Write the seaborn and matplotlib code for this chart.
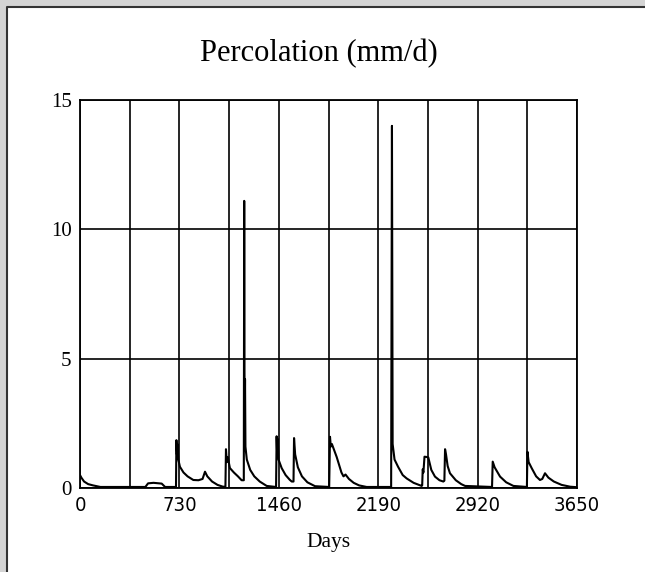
import pandas as pd
import matplotlib
matplotlib.use('Agg')
import matplotlib.pyplot as plt
import seaborn as sns
from matplotlib.patches import Rectangle

# points (day, mm/d)
days = [0, 10, 30, 60, 96, 150, 480, 500, 540, 600, 625,
        705, 708, 712, 716, 722, 734, 760, 790, 832, 870, 900, 918, 935, 970, 1010, 1050,
        1068, 1072, 1078, 1085, 1101, 1130, 1160, 1187, 1203, 1206, 1208, 1210, 1212, 1215,
        1225, 1250, 1280, 1320, 1371,
        1440, 1444, 1448, 1452, 1458, 1481, 1510, 1540, 1555, 1568, 1572, 1580, 1600, 1630,
        1670, 1726,
        1830, 1836, 1842, 1850, 1885, 1920, 1935, 1950, 1975, 2010, 2050, 2105,
        2285, 2291, 2296, 2310, 2336, 2370, 2399, 2450, 2509,
        2513, 2517, 2522, 2530, 2545, 2558, 2580, 2607, 2640, 2668,
        2676, 2681, 2688, 2700, 2717, 2760, 2800, 2828,
        3026, 3031, 3045, 3085, 3130, 3183,
        3282, 3286, 3295, 3318, 3350, 3378, 3395, 3415, 3440, 3480, 3537, 3600, 3650]
perc = [0.5, 0.4, 0.25, 0.15, 0.1, 0.04, 0.04, 0.18, 0.2, 0.17, 0.04,
        0.04, 1.85, 1.3, 1.7, 1.1, 0.82, 0.6, 0.45, 0.31, 0.3, 0.35, 0.63, 0.45, 0.25, 0.12, 0.05,
        0.05, 1.5, 1.0, 1.2, 0.77, 0.6, 0.45, 0.3, 0.3, 11.1, 4.5, 3.0, 4.2, 1.6,
        1.1, 0.7, 0.45, 0.25, 0.08,
        0.04, 2.0, 1.3, 1.9, 1.1, 0.77, 0.5, 0.32, 0.25, 0.25, 1.93, 1.3, 0.8, 0.45,
        0.22, 0.07,
        0.04, 1.98, 1.6, 1.7, 1.2, 0.6, 0.45, 0.52, 0.35, 0.2, 0.1, 0.04,
        0.04, 14.0, 1.7, 1.1, 0.82, 0.5, 0.37, 0.2, 0.08,
        0.1, 0.72, 0.6, 1.21, 1.2, 1.18, 0.7, 0.44, 0.3, 0.25,
        0.28, 1.5, 1.3, 0.85, 0.57, 0.3, 0.15, 0.08,
        0.04, 1.02, 0.8, 0.44, 0.22, 0.08,
        0.04, 1.4, 1.0, 0.76, 0.45, 0.31, 0.35, 0.57, 0.4, 0.25, 0.12, 0.05, 0.03]

x_ticks = list(range(0, 3651, 365))
x_labels = [str(t) if i % 2 == 0 else '' for i, t in enumerate(x_ticks)]
y_ticks = [0, 5, 10, 15]

df = pd.DataFrame({'day': days, 'perc': perc})

sns.set_style('white')
plt.rcParams['font.family'] = ['Liberation Serif', 'DejaVu Serif']
plt.rcParams['text.color'] = 'black'
plt.rcParams['xtick.color'] = 'black'
plt.rcParams['ytick.color'] = 'black'

fig = plt.figure(figsize=(6.45, 5.72), dpi=100)
# scan border at the top and left
fig.patches.append(Rectangle((0, 1 - 6 / 572), 1, 6 / 572, transform=fig.transFigure,
                             color='#d4d4d4', zorder=0))
fig.patches.append(Rectangle((0, 0), 6 / 645, 1, transform=fig.transFigure,
                             color='#d4d4d4', zorder=0))
fig.add_artist(plt.Line2D([6.5 / 645, 6.5 / 645, 1], [0, 1 - 6.5 / 572, 1 - 6.5 / 572],
                          transform=fig.transFigure, color='#333333', lw=1.5))

ax = fig.add_axes([80 / 645, 84 / 572, 497 / 645, 388 / 572])
sns.lineplot(data=df, x='day', y='perc', estimator=None, sort=False,
             color='black', lw=1.5, ax=ax)

ax.set_xlim(0, 3650)
ax.set_ylim(0, 15)
ax.set_xticks(x_ticks)
ax.set_xticklabels(x_labels, fontsize=14.5, family='DejaVu Sans', fontstretch='condensed')
ax.set_yticks(y_ticks)
ax.set_yticklabels([str(v) for v in y_ticks], fontsize=15)
ax.tick_params(axis='both', direction='out', length=5, width=1.2, pad=1)
ax.grid(True, color='black', lw=1.2)
for s in ax.spines.values():
    s.set_color('black')
    s.set_linewidth(1.3)
ax.set_xlabel('')
ax.set_ylabel('')

fig.text(0.495, 0.907, 'Percolation (mm/d)', ha='center', va='center', fontsize=22)
fig.text(0.509, 0.051, 'Days', ha='center', va='center', fontsize=15.5)

fig.savefig('out.png', dpi=100)
